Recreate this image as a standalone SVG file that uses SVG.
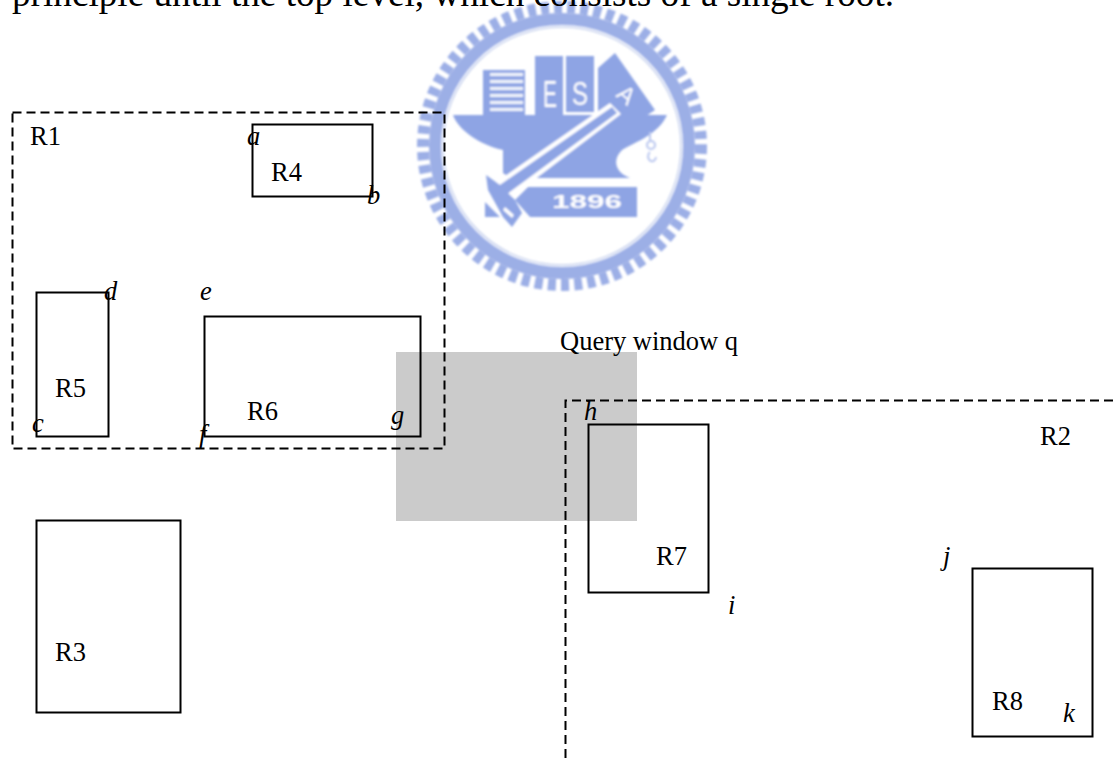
<svg xmlns="http://www.w3.org/2000/svg" width="1113" height="758" viewBox="0 0 1113 758">
<style>
.t{font-family:"Liberation Serif","Times New Roman",serif;font-size:26.500px;fill:#000}
.i{font-style:italic}
.b{fill:none;stroke:#000;stroke-width:2}
.d{fill:none;stroke:#000;stroke-width:2;stroke-dasharray:9 5}
.l{fill:#8ea4e4}
.w{font-family:"Liberation Sans",sans-serif;fill:#fff}
</style>
<defs><filter id="s" x="-5%" y="-5%" width="110%" height="110%"><feGaussianBlur stdDeviation="0.8"/></filter></defs>
<rect width="1113" height="758" fill="#fff"/>
<g id="seal" filter="url(#s)">
<circle cx="562" cy="146" r="139" fill="none" stroke="#9cafe6" stroke-width="12" stroke-dasharray="8 5.200"/>
<circle cx="562" cy="146" r="127" fill="none" stroke="#9cafe6" stroke-width="12"/>
<circle cx="562" cy="146" r="119" fill="none" stroke="#c8d2ee" stroke-width="1.500"/>
<path class="l" d="M483 70h42v45h-42z"/>
<path fill="#fff" opacity=".88" d="M490 73h33v3h-33zM490 80h33v3h-33zM490 87h33v3h-33zM490 94h33v3h-33zM490 101h33v3h-33zM490 108h33v3h-33z"/>
<path class="l" d="M535 56h28v59h-28zM566 56h28v56h-28zM598 68l17-15 40 57-15 10-42-6z"/>
<path class="l" d="M453 115H667C658 135 635 142 622 150C612 160 615 172 630 178H510L503 173V150C480 145 458 130 453 115Z"/>
<path fill="#fff" d="M610 103L621 114L505 202L492 185Z"/>
<path class="l" d="M612 107L617 113L503 197L497 187Z"/>
<path class="l" d="M486 175L500 185L515 200L522 213L512 227L503 217L488 190Z"/>
<path class="l" d="M528 187H637V217H530L515 200ZM485 202L500 217H485Z"/>
<path fill="#fff" d="M505 207l9 8-2 3-9-8z"/>
<path fill="none" stroke="#b9c6ef" stroke-width="2" d="M650 132v8M647 145a4 4 0 1 0 8 0a4 4 0 1 0-8 0M650 152a4 5 0 1 0 6 5"/>
<text class="w" x="543" y="107" style="font-size:36px" textLength="14" lengthAdjust="spacingAndGlyphs">E</text>
<text class="w" x="572" y="105" style="font-size:34px" textLength="16" lengthAdjust="spacingAndGlyphs">S</text>
<text class="w" transform="translate(615 96) rotate(40)" style="font-size:24px">A</text>
<text class="w" x="552" y="208" style="font-size:18px;font-weight:bold" textLength="70" lengthAdjust="spacingAndGlyphs">1896</text>
</g>
<text class="t" x="12" y="6" style="font-size:37.200px">principle until the top level, which consists of a single root.</text>
<rect id="query" x="396" y="352" width="241" height="169" fill="#cbcbcb"/>
<g id="R1"><rect class="d" x="12.500" y="112.500" width="432" height="336"/><text class="t" x="30" y="145">R1</text></g>
<g id="R2"><path class="d" d="M1113 400.500H565.500V758"/><text class="t" x="1040" y="445">R2</text></g>
<g id="R3"><rect class="b" x="36.500" y="520.500" width="144" height="192"/><text class="t" x="55" y="661">R3</text></g>
<g id="R4"><rect class="b" x="252.500" y="124.500" width="120" height="72"/><text class="t" x="271" y="181">R4</text><text class="t i" x="247" y="145">a</text><text class="t i" x="367" y="204">b</text></g>
<g id="R5"><rect class="b" x="36.500" y="292.500" width="72" height="144"/><text class="t" x="55" y="397">R5</text><text class="t i" x="32" y="432">c</text><text class="t i" x="104" y="300">d</text></g>
<g id="R6"><rect class="b" x="204.500" y="316.500" width="216" height="120"/><text class="t" x="247" y="420">R6</text><text class="t i" x="200" y="300">e</text><text class="t i" x="199" y="443">f</text><text class="t i" x="391" y="424">g</text></g>
<g id="R7"><rect class="b" x="588.500" y="424.500" width="120" height="168"/><text class="t" x="656" y="565">R7</text><text class="t i" x="584" y="420">h</text><text class="t i" x="728" y="614">i</text></g>
<g id="R8"><rect class="b" x="972.500" y="568.500" width="120" height="168"/><text class="t" x="992" y="710">R8</text><text class="t i" x="943" y="565">j</text><text class="t i" x="1063" y="722">k</text></g>
<text id="qlabel" class="t" x="560" y="350">Query window q</text>
</svg>
